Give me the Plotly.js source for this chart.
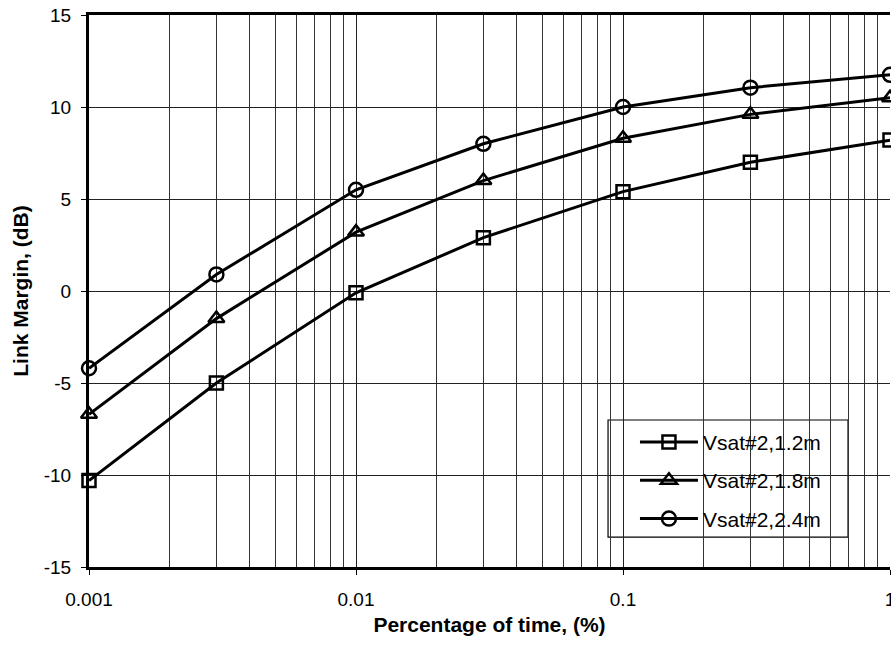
<!DOCTYPE html>
<html>
<head>
<meta charset="utf-8">
<script src="https://cdn.plot.ly/plotly-3.0.1.min.js"></script>
<style>html,body{margin:0;padding:0;overflow:hidden;background:#fff;}</style>
</head>
<body>
<div id="chart"></div>
<script>
const timePct = [0.001, 0.003, 0.01, 0.03, 0.1, 0.3, 1];
const vsat12 = [-10.3, -5.0, -0.1, 2.9, 5.4, 7.0, 8.2];
const vsat18 = [-6.7, -1.5, 3.2, 6.0, 8.3, 9.6, 10.5];
const vsat24 = [-4.2, 0.9, 5.5, 8.0, 10.0, 11.05, 11.75];
const seriesNames = ['Vsat#2,1.2m', 'Vsat#2,1.8m', 'Vsat#2,2.4m'];
const xTickVals = [0.001, 0.01, 0.1, 1];
const xTickText = ['0.001', '0.01', '0.1', '1'];
const yTickVals = [-15, -10, -5, 0, 5, 10, 15];
const yTickText = ['-15', '-10', '-5', '0', '5', '10', '15'];

const symbols = ['square-open', 'triangle-up-open', 'circle-open'];
const sizes = [13, 14, 14];
const ys = [vsat12, vsat18, vsat24];

const traces = ys.map((y, i) => ({
  x: timePct, y: y, type: 'scatter', mode: 'lines+markers',
  name: seriesNames[i], legendgroup: 'g' + i,
  line: {color: '#000', width: 3},
  marker: {symbol: symbols[i], size: sizes[i], color: '#000', line: {width: 2.5, color: '#000'}},
  cliponaxis: false
}));

const layout = {
  width: 895, height: 646,
  margin: {l: 89, r: 5, t: 15, b: 79},
  paper_bgcolor: '#fff', plot_bgcolor: '#fff',
  font: {family: 'Liberation Sans, Arial, sans-serif', size: 19, color: '#000'},
  showlegend: true,
  legend: {
    x: 0.6816, y: 0.263, xanchor: 'left', yanchor: 'top',
    bgcolor: 'rgba(0,0,0,0)', borderwidth: 0,
    font: {size: 21, color: '#000'}, tracegroupgap: 8, traceorder: 'grouped', itemwidth: 58
  },
  shapes: [{
    type: 'rect', xref: 'paper', yref: 'paper', layer: 'between',
    x0: 0.648, x1: 0.9476, y0: 0.0543, y1: 0.2663,
    fillcolor: '#fff', line: {color: '#000', width: 1.2}
  }],
  xaxis: {
    type: 'log', range: [-3, 0],
    tickvals: xTickVals, ticktext: xTickText,
    ticks: 'outside', ticklen: 5, tickwidth: 1, tickcolor: '#000', ticklabelstandoff: 8,
    ticklabeloverflow: 'allow',
    showgrid: true, gridcolor: '#222', gridwidth: 1,
    minor: {dtick: 'D1', showgrid: true, gridcolor: '#333', gridwidth: 1, ticks: ''},
    showline: true, linecolor: '#000', linewidth: 3, mirror: true,
    zeroline: false,
    title: {text: '<b>Percentage of time, (%)</b>', font: {size: 21}, standoff: 9},
    tickfont: {size: 19}
  },
  yaxis: {
    range: [-15, 15], tickvals: yTickVals, ticktext: yTickText,
    ticks: 'outside', ticklen: 5, tickwidth: 1, tickcolor: '#000', ticklabelstandoff: 6,
    showgrid: true, gridcolor: '#222', gridwidth: 1,
    showline: true, linecolor: '#000', linewidth: 3,
    zeroline: false,
    title: {text: '<b>Link Margin, (dB)</b>', font: {size: 21}, standoff: 10},
    tickfont: {size: 19}
  }
};

Plotly.newPlot('chart', traces, layout, {displayModeBar: false, staticPlot: true});
</script>
</body>
</html>
